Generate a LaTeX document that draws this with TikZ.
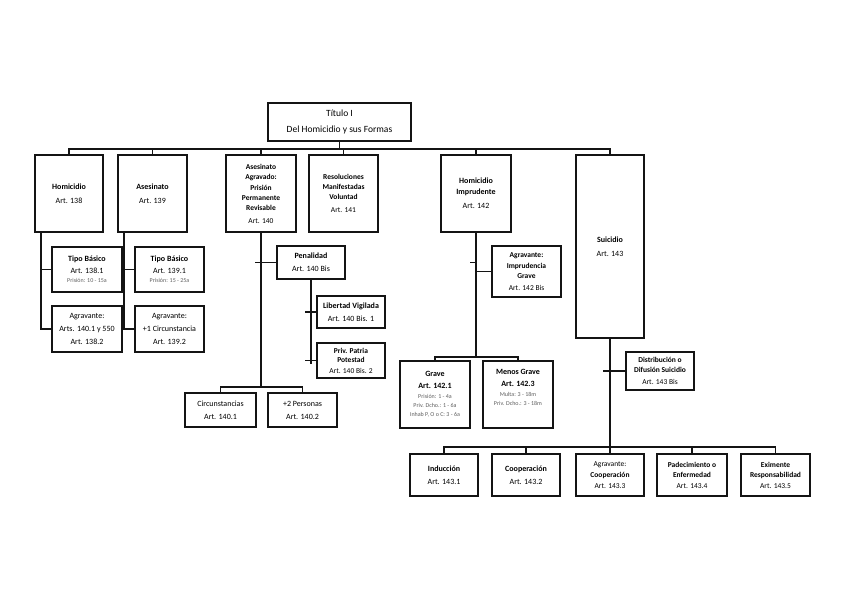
\documentclass[tikz,border=0pt]{standalone}
\usepackage{fontspec}
\setmainfont{Carlito}
\usetikzlibrary{positioning,calc}
\definecolor{orgline}{RGB}{20,20,20}
\definecolor{orgnote}{RGB}{95,95,95}
\tikzset{
  box/.style={draw=orgline, line width=1.5pt, fill=white, align=center,
    inner sep=1pt, text=black, font=\fontsize{8}{11}\selectfont},
  link/.style={draw=orgline, line width=1.8pt}
}
\newcommand{\pena}[1]{{\fontsize{6}{7.5}\selectfont\color{orgnote}#1}}

\begin{document}
\begin{tikzpicture}[x=1pt, y=-1pt]
  \useasboundingbox (0,0) rectangle (848,599);

  % Title
  \node[box, minimum width=143, minimum height=38, font=\fontsize{9.5}{12}\selectfont]
    (titulo) at (339.5,122) {Título I\\[4pt]Del Homicidio y sus Formas};

  % First level
  \node[box, minimum width=68, minimum height=77] (hom138) at (69,193.5)
    {\textbf{Homicidio}\\[3pt]Art. 138};
  \node[box, minimum width=69, minimum height=77] (ase139) at (152.5,193.5)
    {\textbf{Asesinato}\\[3pt]Art. 139};
  \node[box, minimum width=70, minimum height=77, font=\fontsize{7.5}{10}\selectfont]
    (agr140) at (261,193.5)
    {\textbf{Asesinato}\\\textbf{Agravado:}\\[1pt]\textbf{Prisión}\\\textbf{Permanente}\\\textbf{Revisable}\\[3pt]Art. 140};
  \node[box, minimum width=69, minimum height=77, font=\fontsize{7.5}{10}\selectfont]
    (res141) at (343.5,193.5)
    {\textbf{Resoluciones}\\\textbf{Manifestadas}\\\textbf{Voluntad}\\[3pt]Art. 141};
  \node[box, minimum width=70, minimum height=77] (imp142) at (476,193.5)
    {\textbf{Homicidio}\\\textbf{Imprudente}\\[3pt]Art. 142};
  \node[box, minimum width=68, minimum height=183] (sui143) at (610,246.5)
    {\textbf{Suicidio}\\[3pt]Art. 143};

  % Homicidio / Asesinato
  \node[box, minimum width=70, minimum height=45] (tb1381) at (87,269.5)
    {\textbf{Tipo Básico}\\[1pt]Art. 138.1\\[-2pt]\pena{Prisión: 10 - 15a}};
  \node[box, minimum width=70, minimum height=46] (ag1382) at (87,329)
    {Agravante:\\[2pt]Arts. 140.1 y 550\\[2pt]Art. 138.2};
  \node[box, minimum width=69, minimum height=45] (tb1391) at (169.5,269.5)
    {\textbf{Tipo Básico}\\[1pt]Art. 139.1\\[-2pt]\pena{Prisión: 15 - 25a}};
  \node[box, minimum width=69, minimum height=46] (ag1392) at (169.5,329)
    {Agravante:\\[2pt]+1 Circunstancia\\[2pt]Art. 139.2};

  % Asesinato agravado
  \node[box, minimum width=68, minimum height=33] (pen140) at (311,262.5)
    {\textbf{Penalidad}\\[2pt]Art. 140 Bis};
  \node[box, minimum width=68, minimum height=32] (lib140) at (351,312)
    {\textbf{Libertad Vigilada}\\[2pt]Art. 140 Bis. 1};
  \node[box, minimum width=68, minimum height=35, font=\fontsize{7.5}{9}\selectfont]
    (pat140) at (351,360.5)
    {\textbf{Priv. Patria}\\\textbf{Potestad}\\[2pt]Art. 140 Bis. 2};
  \node[box, minimum width=71, minimum height=34] (cir1401) at (220.5,410)
    {Circunstancias\\[2pt]Art. 140.1};
  \node[box, minimum width=69, minimum height=34] (per1402) at (302.5,410)
    {+2 Personas\\[2pt]Art. 140.2};

  % Homicidio imprudente
  \node[box, minimum width=69, minimum height=51, font=\fontsize{7.5}{10}\selectfont]
    (agr142) at (526.5,271.5)
    {\textbf{Agravante:}\\[1pt]\textbf{Imprudencia}\\\textbf{Grave}\\[2pt]Art. 142 Bis};
  \node[box, minimum width=70, minimum height=67] (gra1421) at (435,394.5)
    {\textbf{Grave}\\[1pt]\textbf{Art. 142.1}\\[-1pt]\pena{Prisión: 1 - 4a}\\[-2pt]\pena{Priv. Dcho.: 1 - 6a}\\[-2pt]\pena{Inhab P, O o C: 3 - 6a}};
  \node[box, minimum width=70, minimum height=67] (men1423) at (518,394.5)
    {\textbf{Menos Grave}\\[1pt]\textbf{Art. 142.3}\\[-1pt]\pena{Multa: 3 - 18m}\\[-2pt]\pena{Priv. Dcho.: 3 - 18m}\\[4pt]};

  % Suicidio
  \node[box, minimum width=68, minimum height=38, font=\fontsize{7.5}{10}\selectfont]
    (dif143) at (660,371)
    {\textbf{Distribución o}\\\textbf{Difusión Suicidio}\\[2pt]Art. 143 Bis};
  \node[box, minimum width=68, minimum height=42] (ind1431) at (444,475)
    {\textbf{Inducción}\\[2pt]Art. 143.1};
  \node[box, minimum width=68, minimum height=42] (coo1432) at (526,475)
    {\textbf{Cooperación}\\[2pt]Art. 143.2};
  \node[box, minimum width=68, minimum height=42, font=\fontsize{7.5}{10}\selectfont]
    (agc1433) at (610,475)
    {Agravante:\\[1pt]\textbf{Cooperación}\\[1pt]Art. 143.3};
  \node[box, minimum width=70, minimum height=42, font=\fontsize{7.5}{10}\selectfont]
    (pad1434) at (692,475)
    {\textbf{Padecimiento o}\\\textbf{Enfermedad}\\[1pt]Art. 143.4};
  \node[box, minimum width=69, minimum height=42, font=\fontsize{7.5}{10}\selectfont]
    (exi1435) at (775.5,475)
    {\textbf{Eximente}\\\textbf{Responsabilidad}\\[1pt]Art. 143.5};

  % Connectors
  \foreach \n in {hom138,ase139,agr140,res141,imp142,sui143}
    \draw[link] (titulo.south) -- ++(0,7) -| (\n.north);

  \draw[link] ([xshift=7pt]hom138.south west) |- (tb1381.west);
  \draw[link] ([xshift=7pt]hom138.south west) |- (ag1382.west);
  \draw[link] ([xshift=7pt]ase139.south west) |- (tb1391.west);
  \draw[link] ([xshift=7pt]ase139.south west) |- (ag1392.west);

  \coordinate (agrbar) at (261,387);
  \draw[link] (agr140.south) -- (agrbar);
  \draw[link] (agrbar) -| (cir1401.north);
  \draw[link] (agrbar) -| (per1402.north);
  \draw[link] ([xshift=-6pt]agr140.south |- pen140.west) -- (pen140.west);
  \draw[link] (pen140.south) -- ++(0,84);
  \draw[link] ([xshift=-6pt]pen140.south |- lib140.west) -- (lib140.west);
  \draw[link] ([xshift=-6pt]pen140.south |- pat140.west) -- (pat140.west);

  \coordinate (impbar) at (476,357);
  \draw[link] (imp142.south) -- (impbar);
  \draw[link] (impbar) -| (gra1421.north);
  \draw[link] (impbar) -| (men1423.north);
  \draw[link] (imp142.south |- agr142.west) -- (agr142.west);
  \draw[link] ([shift={(-6pt,9pt)}]imp142.south |- agr142.west) -- ++(6,0);

  \coordinate (suibar) at (610,447);
  \draw[link] (sui143.south) -- (suibar);
  \draw[link] ([xshift=-7pt]sui143.south |- dif143.west) -- (dif143.west);
  \foreach \n in {ind1431,coo1432,agc1433,pad1434,exi1435}
    \draw[link] (suibar) -| (\n.north);
\end{tikzpicture}
\end{document}
